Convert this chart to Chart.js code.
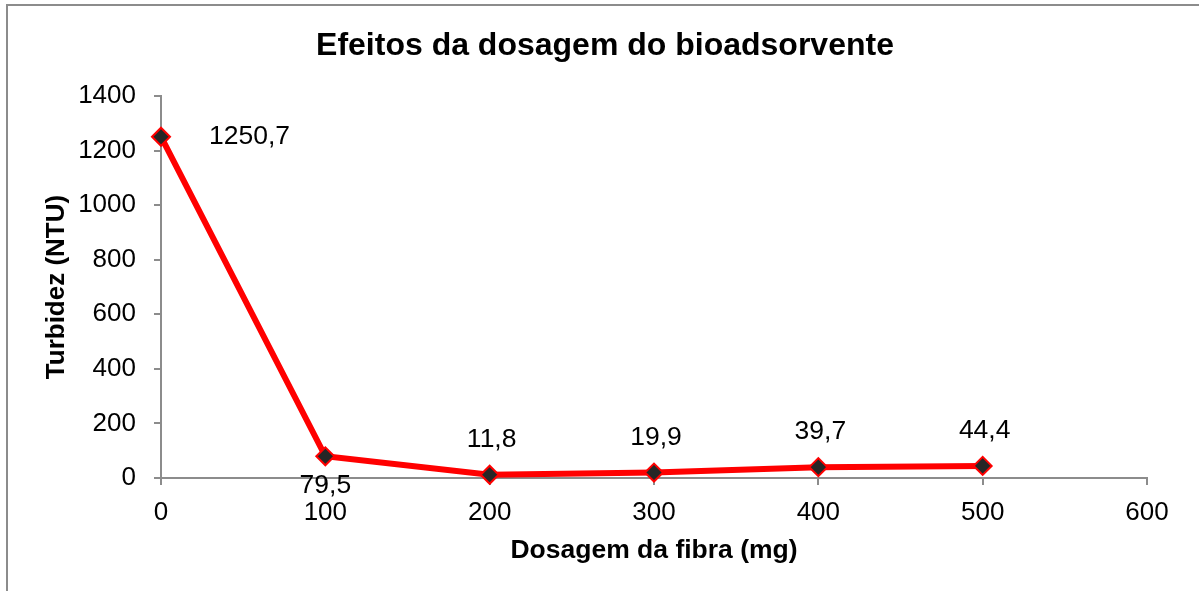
<!DOCTYPE html>
<html>
<head>
<meta charset="utf-8">
<script src="https://cdn.jsdelivr.net/npm/chart.js@4"></script>
<style>
  body { margin: 0; background: #fff; }
  #frame { position: absolute; left: 6px; top: 4px; width: 1300px; height: 700px;
           border-left: 2px solid #8c8c8c; border-top: 2px solid #8c8c8c; }
  #wrap { position: absolute; left: 0; top: 0; width: 1199px; height: 591px; }
</style>
</head>
<body>
<div id="frame"></div>
<div id="wrap"><canvas id="myChart" width="1199" height="591"></canvas></div>
<script>
const ctx = document.getElementById('myChart');

// dosagem da fibra (mg) e turbidez (NTU)
const dosagem = [0, 100, 200, 300, 400, 500];
const turbidez = [1250.7, 79.5, 11.8, 19.9, 39.7, 44.4];
const rotulos = ['1250,7', '79,5', '11,8', '19,9', '39,7', '44,4'];
const posRotulo = ['right', 'below', 'above', 'above', 'above', 'above'];
const titulo = 'Efeitos da dosagem do bioadsorvente';

const fonte = 'Liberation Sans, Arial, sans-serif';
const cinza = '#8c8c8c';

// titulo desenhado a mao, centrado como no original
const tituloPlugin = {
  id: 'titulo',
  afterDraw(chart) {
    const c = chart.ctx;
    c.save();
    c.font = 'bold 32px ' + fonte;
    c.fillStyle = '#000';
    c.textAlign = 'center';
    c.textBaseline = 'alphabetic';
    c.fillText(titulo, 605, 55);
    c.restore();
  }
};

const rotulosPlugin = {
  id: 'rotulos',
  afterDatasetsDraw(chart) {
    const c = chart.ctx;
    const meta = chart.getDatasetMeta(0);
    c.save();
    c.font = '26.5px ' + fonte;
    c.fillStyle = '#000';
    c.textBaseline = 'middle';
    meta.data.forEach((pt, i) => {
      let x = pt.x, y = pt.y;
      if (posRotulo[i] === 'right') {
        c.textAlign = 'left';
        x += 48;
      } else if (posRotulo[i] === 'below') {
        c.textAlign = 'center';
        y += 29;
      } else {
        c.textAlign = 'center';
        x += 2;
        y -= 35;
      }
      c.fillText(rotulos[i], x, y);
    });
    c.restore();
  }
};

new Chart(ctx, {
  type: 'line',
  data: {
    datasets: [{
      data: dosagem.map((d, i) => ({ x: d, y: turbidez[i] })),
      borderColor: '#ff0000',
      borderWidth: 6,
      pointStyle: 'rectRot',
      pointRadius: 9,
      pointHoverRadius: 9,
      pointBackgroundColor: '#262626',
      pointBorderColor: '#ff0000',
      pointBorderWidth: 2,
      tension: 0,
      clip: false
    }]
  },
  options: {
    responsive: false,
    animation: false,
    layout: { padding: { left: 0, right: 52, top: 96, bottom: 0 } },
    plugins: {
      legend: { display: false },
      tooltip: { enabled: false },
      title: { display: false }
    },
    scales: {
      x: {
        type: 'linear',
        min: 0,
        max: 600,
        afterFit: (s) => { s.height = 113; },
        ticks: { stepSize: 100, color: '#000', font: { family: fonte, size: 26 }, padding: 12, maxRotation: 0,
                 callback: (v) => String(v) },
        grid: { drawOnChartArea: false, drawTicks: true, tickLength: 7, color: cinza, lineWidth: 2 },
        border: { display: true, color: cinza, width: 2 },
        title: {
          display: true,
          text: 'Dosagem da fibra (mg)',
          color: '#000',
          font: { family: fonte, size: 26.5, weight: 'bold' },
          padding: { top: 0, bottom: 24 }
        }
      },
      y: {
        min: 0,
        max: 1400,
        afterFit: (s) => { s.width = 161; },
        ticks: { stepSize: 200, color: '#000', font: { family: fonte, size: 26 }, padding: 18,
                 callback: (v) => String(v) },
        grid: { drawOnChartArea: false, drawTicks: true, tickLength: 7, color: cinza, lineWidth: 2 },
        border: { display: true, color: cinza, width: 2 },
        title: {
          display: true,
          text: 'Turbidez (NTU)',
          color: '#000',
          font: { family: fonte, size: 26, weight: 'bold' },
          padding: { top: 41, bottom: 0 }
        }
      }
    }
  },
  plugins: [rotulosPlugin, tituloPlugin]
});
</script>
</body>
</html>
